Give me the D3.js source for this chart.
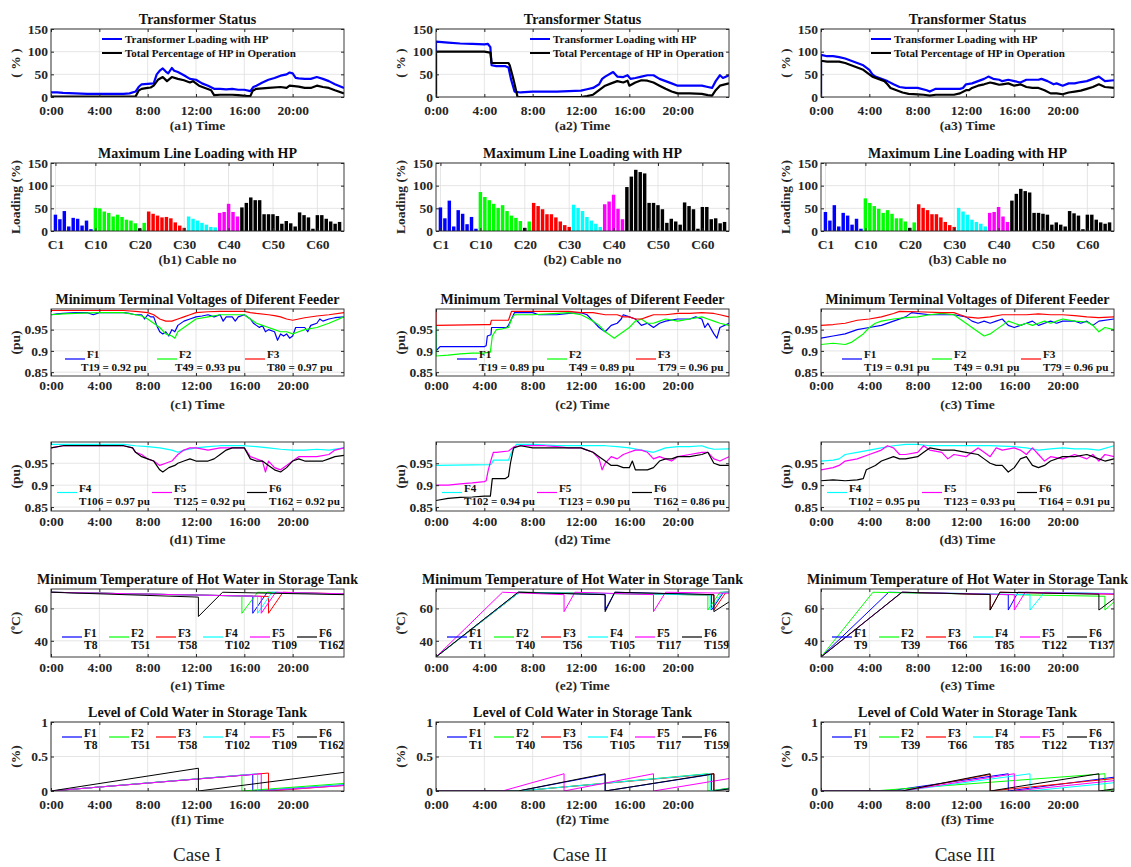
<!DOCTYPE html>
<html><head><meta charset="utf-8">
<script src="https://cdn.jsdelivr.net/npm/d3@7"></script>
<style>body{margin:0;background:#fff}svg text{font-family:"Liberation Serif","Times New Roman",serif}</style>
</head><body><svg id="c" width="1131" height="867"></svg>
<script>
// ---------- ticks / categories ----------
const timeTicks=[0,4,8,12,16,20];
const timeTickLabels=["0:00","4:00","8:00","12:00","16:00","20:00"];
const pctTicks=[0,50,100,150];
const cableTicks=[1,10,20,30,40,50,60];
const cableTickLabels=["C1","C10","C20","C30","C40","C50","C60"];
const puTicks=[0.85,0.9,0.95];
const puTickLabels=["0.85","0.9","0.95"];
const tempTicks=[40,60];
const levelTicks=[0,0.5,1];
const levelTickLabels=["0","0.5","1"];
const feederNames=["F1","F2","F3","F4","F5","F6"];
const feederColors=["#0000ff","#00ff00","#ff0000","#00ffff","#ff00ff","#000000"];
// feeder index of each cable C1..C65
const cableFeeder=[0,0,0,0,0,0,0,0,0, 1,1,1,1,1,1,1,1,1,1,5,1, 2,2,2,2,2,2,2,2,2, 3,3,3,3,3,3,3, 4,4,4,4,4, 5,5,5,5,5,5,5,5,5,5,5,5,5,5,5,5,5,5,5,5,5,5,5];
// ---------- (a) transformer status ----------
const a1Load=[[0,10],[0.5,10],[1,9],[2,8],[3,7],[4,7],[5,7],[6,7],[6.5,8],[7,12],[7.25,22],[7.5,28],[8,29],[8.5,30],[8.75,50],[9,58],[9.25,63],[9.5,56],[9.7,52],[10,64],[10.2,58],[10.5,55],[11,48],[11.5,40],[12,38],[12.5,30],[13,25],[13.5,18],[14,18],[14.5,17],[15,18],[15.5,16],[16,16],[16.5,13],[16.75,22],[17,25],[17.5,32],[18,38],[18.5,42],[19,47],[19.5,50],[19.75,54],[20,52],[20.25,42],[20.5,41],[21,40],[21.5,40],[22,44],[22.5,40],[23,35],[23.5,28],[24.25,20]];
const a1Hp=[[0,1],[7,1],[7.25,14],[7.5,18],[8,20],[8.25,21],[8.5,25],[8.85,38],[9.25,44],[9.6,35],[10,44],[10.5,40],[11,37],[11.5,32],[11.75,35],[12.25,25],[12.75,20],[13.25,15],[13.5,4],[14,5],[15,5],[15.5,4],[16.25,2],[16.5,2],[16.7,14],[17,18],[18,20],[19,22],[19.5,20],[19.75,25],[20.5,23],[21,20],[21.5,20],[22,25],[22.5,22],[23,20],[23.5,15],[24.25,8]];
const a2Load=[[0,0],[0,122],[1,120],[2,118],[3,117],[4,116],[4.3,117],[4.5,110],[4.6,70],[5,68],[5.75,68],[6,65],[6.2,40],[6.5,12],[7,10],[8,12],[9,12],[10,12],[11,13],[12,14],[12.5,17],[13,20],[13.5,28],[13.75,40],[14,45],[14.66,55],[15,45],[15.5,44],[15.85,48],[16.1,40],[16.5,42],[17,45],[17.5,48],[18,48],[18.5,40],[19,35],[19.5,30],[20,25],[21,25],[22,25],[22.5,22],[22.85,20],[23.15,35],[23.5,48],[23.75,42],[24.25,48]];
const a2Hp=[[0,0],[0,100],[4,100],[4.5,98],[4.6,75],[6,75],[6.1,70],[6.4,40],[6.75,0],[12,0],[12.5,2],[13,5],[13.5,15],[14,25],[14.5,30],[15,35],[15.5,32],[15.85,36],[16,25],[16.5,32],[17,37],[17.5,36],[18,32],[18.5,25],[19,18],[19.5,12],[20,8],[21,8],[22,7],[22.5,4],[22.85,3],[23.15,15],[23.5,25],[24.25,30]];
const a3Load=[[0,0],[0,93],[0.5,90],[1,90],[1.5,88],[2,85],[2.5,80],[3,75],[3.5,70],[4,60],[4.25,50],[4.5,45],[5,40],[5.5,35],[6,28],[6.5,22],[7,20],[8,20],[8.75,15],[9,12],[9.5,18],[10,18],[11.5,18],[11.75,20],[12,28],[12.5,30],[13,35],[13.5,40],[13.85,45],[14.25,40],[14.75,38],[15,35],[15.5,38],[16,35],[16.5,32],[17,38],[18,38],[18.25,40],[18.75,35],[19.25,28],[19.5,30],[20,25],[20.5,30],[21,30],[21.5,33],[22,35],[22.5,40],[23,45],[23.25,40],[23.5,35],[24.25,37]];
const a3Hp=[[0,0],[0,80],[0.5,78],[1.5,78],[2,75],[2.5,70],[3,65],[3.5,60],[4,50],[4.25,45],[4.75,40],[5.25,35],[5.5,28],[5.75,20],[6.25,15],[6.75,10],[7.25,7],[8,6],[8.5,5],[9,3],[9.5,5],[11,5],[11.5,8],[12,15],[12.25,15],[12.5,20],[13,25],[13.5,28],[14,32],[14.33,30],[14.75,27],[15,28],[15.5,30],[16,25],[16.5,28],[17,22],[17.5,20],[18,20],[18.5,15],[19,8],[19.5,8],[20,6],[20.5,10],[21,12],[21.5,14],[22,18],[22.5,22],[23,28],[23.5,22],[24.25,20]];
const transLegend=["Transformer Loading with HP","Total Percentage of HP in Operation"];
// ---------- (b) max line loading ----------
const b1Loading=[36,26,44,10,29,27,12,23,4, 51,50,43,40,32,36,31,25,23,17,6,18, 43,38,34,30,31,28,19,12,7, 32,27,23,18,14,9,8, 40,42,60,42,32, 52,62,74,68,68,37,37,37,33,16,22,17,10,41,35,30,5,35,35,27,21,16,20];
const b2Loading=[52,28,67,10,46,38,15,31,5, 86,75,68,60,51,57,44,34,29,22,7,21, 62,55,48,37,37,30,21,13,9, 58,51,44,31,23,16,9, 59,65,80,49,26, 97,120,135,130,127,62,62,57,48,18,27,21,14,63,55,48,5,53,53,26,28,17,20];
const b3Loading=[42,23,57,10,40,34,14,27,5, 72,62,55,49,40,46,38,28,28,21,7,19, 59,51,46,37,37,30,20,13,9, 51,43,36,25,20,16,10, 40,42,53,32,20, 67,82,93,88,85,40,40,38,36,14,19,14,10,44,39,34,4,36,36,25,19,16,19];
// ---------- (c) min terminal voltage F1-F3 ----------
const c1F1=[[0,0.985],[0.5,0.987],[1,0.988],[2,0.99],[3,0.99],[3.5,0.985],[4,0.99],[5,0.99],[6,0.99],[6.5,0.988],[7,0.985],[7.5,0.985],[7.75,0.975],[8,0.985],[8.25,0.98],[8.5,0.98],[8.75,0.96],[9,0.945],[9.25,0.94],[9.5,0.945],[9.75,0.935],[10,0.95],[10.25,0.945],[10.5,0.96],[11,0.97],[11.5,0.975],[12,0.98],[12.5,0.982],[13,0.985],[13.5,0.98],[14,0.985],[14.25,0.97],[14.5,0.98],[15,0.98],[15.25,0.97],[15.5,0.98],[16,0.985],[16.5,0.975],[16.75,0.965],[17,0.96],[17.25,0.955],[17.5,0.96],[17.75,0.945],[18,0.95],[18.5,0.945],[18.75,0.925],[19,0.94],[19.25,0.935],[19.5,0.94],[19.75,0.93],[20,0.935],[20.25,0.955],[20.5,0.955],[21,0.955],[21.25,0.945],[21.5,0.96],[22,0.965],[22.25,0.975],[22.5,0.97],[23,0.975],[23.5,0.978],[24.25,0.98]];
const c1F2=[[0,0.985],[1,0.987],[2,0.988],[4,0.99],[6,0.99],[7,0.985],[7.5,0.982],[8,0.975],[8.5,0.965],[9,0.955],[9.5,0.94],[10,0.935],[10.25,0.93],[10.5,0.945],[11,0.955],[11.5,0.965],[12,0.975],[13,0.98],[14,0.985],[15,0.985],[16,0.985],[16.5,0.975],[17,0.965],[17.5,0.96],[18,0.955],[18.5,0.95],[19,0.945],[19.5,0.945],[20,0.94],[20.5,0.945],[21,0.95],[22,0.955],[23,0.965],[24.25,0.98]];
const c1F3=[[0,0.995],[6,0.995],[7,0.993],[8,0.99],[8.5,0.985],[9,0.975],[9.5,0.97],[10,0.97],[10.5,0.975],[11,0.98],[11.5,0.985],[12,0.99],[13,0.992],[14,0.993],[15,0.993],[16,0.993],[16.5,0.99],[17,0.988],[18,0.985],[18.5,0.983],[19,0.98],[19.5,0.975],[20,0.972],[20.5,0.975],[21,0.978],[22,0.982],[23,0.985],[24.25,0.99]];
const c2F1=[[0,0.96],[0,0.9],[0.33,0.91],[1,0.91],[2,0.91],[3,0.91],[4,0.91],[4.15,0.912],[4.25,0.935],[4.55,0.938],[4.6,0.955],[5,0.955],[5.85,0.955],[6,0.96],[6.25,0.975],[6.5,0.99],[7,0.99],[8,0.99],[8.5,0.985],[9,0.985],[10,0.985],[11,0.988],[12,0.99],[12.5,0.985],[13,0.97],[13.5,0.955],[14,0.945],[14.5,0.96],[15,0.965],[15.33,0.975],[15.5,0.985],[16,0.98],[16.5,0.975],[17,0.96],[17.5,0.965],[18,0.955],[18.5,0.965],[19,0.97],[20,0.975],[21,0.975],[21.5,0.98],[22,0.975],[22.25,0.955],[22.5,0.965],[23,0.94],[23.25,0.93],[23.5,0.955],[24.25,0.965]];
const c2F2=[[0,0.96],[0,0.888],[1,0.89],[2,0.893],[3,0.895],[4,0.895],[4.5,0.897],[4.66,0.935],[5,0.95],[5.5,0.952],[6,0.955],[6.25,0.975],[6.5,0.985],[8,0.985],[10,0.988],[11,0.99],[12,0.985],[12.5,0.978],[13,0.97],[13.5,0.96],[14,0.945],[14.5,0.935],[14.75,0.93],[15,0.935],[15.5,0.945],[16,0.955],[16.5,0.97],[17,0.975],[17.5,0.965],[18,0.965],[18.5,0.97],[19,0.975],[20,0.97],[21,0.975],[22,0.98],[22.5,0.975],[23,0.97],[23.5,0.965],[24.25,0.96]];
const c2F3=[[0,0.998],[0,0.96],[4,0.962],[4.5,0.962],[4.58,0.972],[6,0.972],[6.25,0.993],[11,0.993],[12,0.99],[13,0.99],[14,0.985],[15,0.985],[15.5,0.98],[16,0.98],[16.5,0.975],[17,0.975],[17.5,0.98],[18,0.985],[19,0.985],[20,0.988],[21,0.988],[22,0.99],[23,0.988],[23.5,0.985],[24.25,0.98]];
const c3F1=[[0,0.93],[1,0.935],[2,0.94],[3,0.95],[4,0.955],[5,0.96],[6,0.97],[7,0.98],[7.5,0.99],[8,0.988],[9,0.985],[10,0.985],[11,0.985],[12,0.98],[12.5,0.97],[13,0.965],[13.5,0.97],[14,0.965],[14.5,0.97],[15,0.975],[15.5,0.96],[16,0.955],[16.5,0.96],[17,0.965],[17.5,0.97],[18,0.96],[18.5,0.965],[19,0.97],[19.5,0.965],[20,0.97],[21,0.97],[21.5,0.965],[22,0.97],[22.5,0.96],[23,0.97],[24.25,0.975]];
const c3F2=[[0,0.915],[1,0.918],[2,0.915],[2.5,0.92],[3,0.93],[3.5,0.94],[4,0.955],[4.5,0.965],[5,0.97],[6,0.975],[7,0.978],[8,0.98],[9,0.985],[10,0.988],[11,0.985],[11.5,0.975],[12,0.965],[12.5,0.955],[13,0.945],[13.5,0.935],[14,0.94],[14.5,0.95],[15,0.96],[15.5,0.97],[16,0.965],[16.5,0.96],[17,0.965],[17.5,0.96],[18,0.965],[18.5,0.97],[19,0.965],[19.5,0.97],[20,0.975],[21,0.97],[22,0.968],[22.5,0.96],[23,0.945],[23.5,0.955],[24.25,0.95]];
const c3F3=[[0,0.96],[1,0.962],[2,0.965],[3,0.972],[4,0.975],[5,0.98],[6,0.988],[6.5,0.993],[8,0.992],[10,0.99],[11,0.99],[11.5,0.985],[12,0.98],[13,0.977],[14,0.98],[15,0.985],[16,0.985],[17,0.985],[18,0.987],[19,0.985],[20,0.985],[21,0.983],[22,0.98],[23,0.978],[24.25,0.98]];
const c1Terms=["T19 = 0.92 pu","T49 = 0.93 pu","T80 = 0.97 pu"];
const c2Terms=["T19 = 0.89 pu","T49 = 0.89 pu","T79 = 0.96 pu"];
const c3Terms=["T19 = 0.91 pu","T49 = 0.91 pu","T79 = 0.96 pu"];
// ---------- (d) min terminal voltage F4-F6 ----------
const d1F4=[[0,0.993],[6,0.993],[7,0.99],[8,0.988],[9,0.985],[10,0.98],[10.5,0.975],[11,0.98],[12,0.985],[13,0.988],[14,0.99],[16,0.99],[17,0.988],[18,0.985],[19,0.982],[20,0.98],[21,0.98],[22,0.982],[23,0.98],[24.25,0.985]];
const d1F5=[[0,0.985],[1,0.99],[6,0.99],[6.75,0.985],[7,0.975],[7.5,0.97],[8,0.96],[8.5,0.955],[9,0.945],[9.5,0.95],[10,0.955],[10.5,0.97],[11,0.98],[11.5,0.985],[12,0.985],[13,0.98],[14,0.985],[16,0.985],[16.5,0.965],[17,0.96],[17.5,0.955],[17.75,0.93],[18,0.955],[18.5,0.94],[19,0.935],[19.5,0.945],[20,0.955],[20.5,0.965],[21,0.965],[22,0.965],[23,0.97],[23.5,0.98],[24.25,0.985]];
const d1F6=[[0,0.985],[1,0.99],[6,0.99],[6.75,0.985],[7,0.975],[7.5,0.965],[8,0.96],[8.5,0.955],[9,0.935],[9.25,0.93],[9.75,0.94],[10.25,0.945],[10.5,0.95],[11,0.955],[11.5,0.96],[12,0.955],[13,0.955],[13.5,0.96],[14,0.97],[14.5,0.98],[15,0.985],[16,0.985],[16.5,0.96],[17,0.955],[17.5,0.955],[18,0.945],[18.5,0.935],[19,0.93],[19.5,0.94],[20,0.955],[20.5,0.96],[21,0.955],[22,0.955],[22.5,0.955],[23,0.96],[23.5,0.965],[24.25,0.968]];
const d2F4=[[0,0.945],[4.5,0.947],[4.58,0.948],[4.75,0.957],[6,0.957],[6.25,0.975],[6.66,0.993],[8,0.993],[10,0.99],[14,0.99],[15,0.988],[16,0.985],[17,0.98],[18,0.975],[18.5,0.98],[19,0.985],[20,0.988],[21,0.988],[22,0.99],[22.5,0.985],[23,0.982],[24.25,0.983]];
const d2F5=[[0,0.9],[1,0.9],[2,0.903],[3,0.905],[4,0.908],[4.15,0.91],[4.33,0.935],[4.58,0.96],[4.75,0.975],[5,0.975],[6,0.978],[6.5,0.988],[7,0.99],[9,0.99],[10,0.988],[11,0.985],[12,0.985],[12.5,0.98],[13,0.975],[13.5,0.96],[13.75,0.935],[14,0.95],[14.5,0.965],[15,0.96],[15.5,0.97],[16,0.975],[16.5,0.98],[17,0.98],[17.5,0.975],[18,0.96],[18.5,0.965],[19,0.96],[19.5,0.955],[20,0.965],[21,0.97],[22,0.975],[22.5,0.975],[23,0.96],[23.5,0.955],[24.25,0.965]];
const d2F6=[[0,0.865],[1,0.87],[2,0.872],[3,0.873],[4,0.875],[4.5,0.875],[4.66,0.915],[5.75,0.915],[6,0.92],[6.16,0.95],[6.42,0.985],[7,0.99],[8,0.985],[12,0.985],[12.5,0.98],[13,0.975],[13.5,0.965],[14,0.955],[14.5,0.945],[15,0.945],[15.5,0.94],[16,0.94],[16.25,0.955],[16.5,0.935],[17.5,0.935],[18,0.94],[18.5,0.955],[19,0.96],[19.5,0.96],[20,0.965],[21,0.965],[22,0.97],[22.5,0.975],[23,0.95],[23.5,0.945],[24.25,0.945]];
const d3F4=[[0,0.955],[1,0.957],[1.5,0.96],[2,0.97],[3,0.975],[4,0.98],[5,0.985],[6,0.99],[7,0.993],[8,0.993],[9,0.99],[14,0.99],[16,0.988],[17,0.985],[18,0.98],[19,0.983],[20,0.985],[21,0.983],[22,0.983],[23,0.98],[24.25,0.99]];
const d3F5=[[0,0.935],[1,0.94],[1.5,0.945],[2,0.955],[3,0.96],[4,0.97],[5,0.98],[5.5,0.99],[6,0.985],[6.5,0.97],[7,0.97],[8,0.975],[8.5,0.99],[9,0.98],[10,0.975],[10.5,0.96],[11,0.97],[12,0.965],[12.5,0.975],[13,0.985],[13.5,0.975],[14,0.965],[14.5,0.985],[15,0.98],[16,0.985],[16.5,0.98],[17,0.97],[17.5,0.985],[18,0.97],[18.5,0.955],[19,0.965],[20,0.96],[21,0.97],[22,0.96],[22.5,0.97],[23,0.955],[23.5,0.97],[24.25,0.965]];
const d3F6=[[0,0.91],[1,0.912],[2,0.91],[3,0.912],[3.5,0.915],[3.75,0.935],[4.5,0.945],[5,0.955],[6,0.965],[6.5,0.96],[7,0.96],[8,0.965],[8.5,0.975],[9,0.985],[10,0.98],[11,0.98],[12,0.975],[13,0.97],[13.5,0.96],[14,0.95],[14.5,0.945],[15,0.945],[15.5,0.93],[16,0.94],[16.5,0.96],[17,0.965],[17.5,0.945],[18,0.94],[18.5,0.945],[19,0.955],[20,0.965],[21,0.965],[22,0.97],[22.5,0.965],[23,0.96],[23.5,0.955],[24.25,0.96]];
const d1Terms=["T106 = 0.97 pu","T125 = 0.92 pu","T162 = 0.92 pu"];
const d2Terms=["T102 = 0.94 pu","T123 = 0.90 pu","T162 = 0.86 pu"];
const d3Terms=["T102 = 0.95 pu","T123 = 0.93 pu","T164 = 0.91 pu"];
// ---------- (e) min hot water temperature ----------
const e1F1=[[0,70],[16.7,67.6],[16.7,57],[17.9,70],[24.25,68.9]];
const e1F2=[[0,70],[15.8,67.7],[15.8,57],[17.1,70],[24.25,68.8]];
const e1F3=[[0,70],[18.0,67.4],[18.0,57],[19.2,70],[24.25,69]];
const e1F4=[[0,70],[17.1,67.5],[17.1,57],[18.3,70],[24.25,68.9]];
const e1F5=[[0,70],[17.4,67.5],[17.4,57],[18.6,70],[24.25,69]];
const e1F6=[[0,70],[12.2,67],[12.2,55],[14.2,70],[24.25,68.5]];
const e2F1=[[0,30],[6.8,70],[14,68.5],[14,59],[14.8,70],[22.8,68.5],[22.8,59],[23.8,70],[24.25,70]];
const e2F2=[[0,30],[6.9,70],[22.5,68.3],[22.5,59],[23.5,70],[24.25,70]];
const e2F3=[[0,30],[6.9,70],[23,68.3],[23,59],[24,70],[24.25,70]];
const e2F4=[[0,30],[6.9,70],[22.7,68.3],[22.7,59],[23.7,70],[24.25,70]];
const e2F5=[[0,30],[5.5,70],[10.6,68.5],[10.6,58],[11.5,70],[18,68.5],[18,58],[19,70],[24.25,69.4]];
const e2F6=[[0,30],[6.8,70],[14,68.5],[14,58],[14.8,70],[23,68.5],[23,58],[24.25,64]];
const e3F1=[[0,30],[5.6,70],[15.5,68.5],[15.5,59],[16.3,70],[24.25,69]];
const e3F2=[[0,62],[0,30],[4.3,70],[23.5,67.5],[23.5,59],[24.25,64]];
const e3F3=[[0,30],[6.7,70],[14,68.6],[14,59],[14.8,70],[24.25,68.8]];
const e3F4=[[0,30],[6.7,70],[17.3,68.5],[17.3,59],[18.5,70],[24.25,69.2]];
const e3F5=[[0,30],[6.7,70],[16,68.5],[16,59],[16.9,70],[24.25,69]];
const e3F6=[[0,30],[6.7,70],[14,68.6],[14,59],[14.8,70],[23,68.8],[23,59],[24.25,66]];
const e1Terms=["T8","T51","T58","T102","T109","T162"];
const e2Terms=["T1","T40","T56","T105","T117","T159"];
const e3Terms=["T9","T39","T66","T85","T122","T137"];
// ---------- (f) cold water level ----------
const f1F1=[[0,0],[16.7,0.24],[16.7,0],[24.25,0.09]];
const f1F2=[[0,0],[15.8,0.23],[15.8,0],[24.25,0.11]];
const f1F3=[[0,0],[18,0.26],[18,0],[24.25,0.08]];
const f1F4=[[0,0],[17.1,0.25],[17.1,0],[24.25,0.09]];
const f1F5=[[0,0],[17.4,0.25],[17.4,0],[24.25,0.08]];
const f1F6=[[0,0],[12.2,0.33],[12.2,0],[24.25,0.27]];
const f2F1=[[0,0],[6.8,0],[14,0.24],[14,0],[22.8,0.24],[22.8,0],[24.25,0.04]];
const f2F2=[[0,0],[6.9,0],[22.5,0.25],[22.5,0],[24.25,0.04]];
const f2F3=[[0,0],[6.9,0],[23,0.25],[23,0],[24.25,0.03]];
const f2F4=[[0,0],[6.9,0],[22.7,0.25],[22.7,0],[24.25,0.03]];
const f2F5=[[0,0],[5.5,0],[10.6,0.25],[10.6,0],[18,0.25],[18,0],[24.25,0.18]];
const f2F6=[[0,0],[6.8,0],[14,0.25],[14,0],[23,0.25],[23,0],[24.25,0.03]];
const f3F1=[[0,0],[5.6,0],[15.5,0.25],[15.5,0],[24.25,0.2]];
const f3F2=[[0,0],[4.3,0],[23.5,0.25],[23.5,0],[24.25,0.02]];
const f3F3=[[0,0],[6.7,0],[14,0.24],[14,0],[24.25,0.18]];
const f3F4=[[0,0],[6.7,0],[17.3,0.25],[17.3,0],[24.25,0.12]];
const f3F5=[[0,0],[6.7,0],[16,0.25],[16,0],[24.25,0.15]];
const f3F6=[[0,0.95],[0,0],[6.7,0],[14,0.25],[14,0],[23,0.25],[23,0],[24.25,0.03]];
const caseLabels=["Case I","Case II","Case III"];

// ---------- layout ----------
const svg=d3.select("#c");
const colX=[51,436,821], PW=293;
const rowTop={a:29,b:163,c:309,d:442,e:589,f:722};
const rowBot={a:97,b:231,c:376,d:511,e:657,f:791};
const xPad={a:8,b:8,c:4,d:5,e:5,f:8};
const GRID="#dedede", AX="#262626";
const FONT="'Liberation Serif','Times New Roman',serif";

function panel(p){
  const x0=colX[p.col], y0=rowTop[p.row], y1=rowBot[p.row];
  const g=svg.append("g");
  const x=d3.scaleLinear().domain(p.xd).range([x0,x0+PW]);
  const y=d3.scaleLinear().domain(p.yd).range([y1,y0]);
  g.append("g").selectAll("line").data(p.xt).join("line")
    .attr("x1",d=>x(d)).attr("x2",d=>x(d)).attr("y1",y0).attr("y2",y1).attr("stroke",GRID).attr("stroke-width",0.8);
  g.append("g").selectAll("line").data(p.yt).join("line")
    .attr("y1",d=>y(d)).attr("y2",d=>y(d)).attr("x1",x0).attr("x2",x0+PW).attr("stroke",GRID).attr("stroke-width",0.8);
  const cid="clip"+p.id;
  g.append("clipPath").attr("id",cid).append("rect").attr("x",x0).attr("y",y0).attr("width",PW).attr("height",y1-y0);
  const m=g.append("g").attr("clip-path",`url(#${cid})`);
  if(p.bars){
    const bw=x(0.78)-x(0);
    m.selectAll("rect").data(p.bars).join("rect")
      .attr("x",(d,i)=>x(i+1)-bw/2).attr("width",bw)
      .attr("y",d=>y(d)).attr("height",d=>y(0)-y(d))
      .attr("fill",(d,i)=>feederColors[cableFeeder[i]]);
  }
  if(p.series){
    const line=d3.line().x(d=>x(d[0])).y(d=>y(d[1]));
    p.series.forEach(s=>m.append("path").datum(s.data).attr("d",line)
      .attr("fill","none").attr("stroke",s.color).attr("stroke-width",p.lw).attr("stroke-linejoin","round"));
  }
  g.append("rect").attr("x",x0).attr("y",y0).attr("width",PW).attr("height",y1-y0)
    .attr("fill","none").attr("stroke",AX).attr("stroke-width",0.9);
  const style=s=>{s.select(".domain").remove();
    s.selectAll("line").attr("stroke",AX);
    s.selectAll("text").attr("font-family",FONT).attr("font-weight","bold").attr("font-size",13.5).attr("fill",AX);};
  g.append("g").attr("transform",`translate(0,${y1})`)
    .call(d3.axisBottom(x).tickValues(p.xt).tickFormat((d,i)=>p.xl[i]).tickSizeInner(-3).tickSizeOuter(0).tickPadding(xPad[p.row])).call(style);
  g.append("g").attr("transform",`translate(0,${y0})`)
    .call(d3.axisTop(x).tickValues(p.xt).tickFormat("").tickSizeInner(-3).tickSizeOuter(0)).call(style);
  g.append("g").attr("transform",`translate(${x0},0)`)
    .call(d3.axisLeft(y).tickValues(p.yt).tickFormat((d,i)=>p.yl?p.yl[i]:d).tickSizeInner(-3).tickSizeOuter(0).tickPadding(3)).call(style);
  g.append("g").attr("transform",`translate(${x0+PW},0)`)
    .call(d3.axisRight(y).tickValues(p.yt).tickFormat("").tickSizeInner(-3).tickSizeOuter(0)).call(style);
  if(p.title) g.append("text").attr("x",x0+PW/2).attr("y",y0-5.5).attr("text-anchor","middle")
    .attr("font-weight","bold").attr("font-size",14).attr("fill","#111").text(p.title);
  g.append("text").attr("x",x0+PW/2).attr("y",y1+32.5).attr("text-anchor","middle")
    .attr("font-weight","bold").attr("font-size",13.5).attr("fill",AX).text(p.xlabel);
  const yl=g.append("text").attr("transform",`translate(${x0-36},${(y0+y1)/2}) rotate(-90)`)
    .attr("text-anchor","middle").attr("dy","0.35em").attr("font-weight","bold").attr("font-size",13.5).attr("fill",AX);
  if(p.ylabel==="degC"){
    yl.append("tspan").text("(");
    yl.append("tspan").attr("font-size",8).attr("dy","-5").text("o");
    yl.append("tspan").attr("dy","5").text("C)");
  } else yl.text(p.ylabel);
  if(p.legend) p.legend(g,x0,y0);
}

function legendTrans(off){
  return (g,x0,y0)=>{
    ["#0000ff","#000000"].forEach((c,i)=>{
      const yy=y0+10+i*14;
      g.append("line").attr("x1",x0+off).attr("x2",x0+off+20).attr("y1",yy).attr("y2",yy).attr("stroke",c).attr("stroke-width",2);
      g.append("text").attr("x",x0+off+23).attr("y",yy).attr("dy","0.35em").attr("font-weight","bold")
        .attr("font-size",11).attr("fill","#111").text(transLegend[i]);
    });
  };
}
function legendFeeder(offs,names,colors,terms,lineDy,fDy,tDy,fs,tShift){
  return (g,x0,y0)=>{
    offs.forEach((o,i)=>{
      const lx=x0+o;
      g.append("line").attr("x1",lx).attr("x2",lx+20).attr("y1",y0+lineDy).attr("y2",y0+lineDy)
        .attr("stroke",colors[i]).attr("stroke-width",1.2);
      g.append("text").attr("x",lx+22).attr("y",y0+fDy).attr("dy","0.35em").attr("font-weight","bold")
        .attr("font-size",fs).attr("fill","#111").text(names[i]);
      g.append("text").attr("x",lx+22+(tShift?tShift[i]:0)).attr("y",y0+tDy).attr("dy","0.35em").attr("font-weight","bold")
        .attr("font-size",fs).attr("fill","#111").text(terms[i]);
    });
  };
}

const timeCfg={xd:[0,24.25],xt:timeTicks,xl:timeTickLabels};
const cols=[0,1,2];
const trans=[[a1Load,a1Hp],[a2Load,a2Hp],[a3Load,a3Hp]];
const transOff=[51,94,50];
const bl=[b1Loading,b2Loading,b3Loading];
const cS=[[c1F1,c1F2,c1F3],[c2F1,c2F2,c2F3],[c3F1,c3F2,c3F3]];
const cT=[c1Terms,c2Terms,c3Terms];
const cOff=[[14,106,194],[21,111,200],[21,111,200]];
const cShift=[[-6,-4,0],[0,0,0],[0,0,0]];
const dS=[[d1F4,d1F5,d1F6],[d2F4,d2F5,d2F6],[d3F4,d3F5,d3F6]];
const dT=[d1Terms,d2Terms,d3Terms];
const eS=[[e1F1,e1F2,e1F3,e1F4,e1F5,e1F6],[e2F1,e2F2,e2F3,e2F4,e2F5,e2F6],[e3F1,e3F2,e3F3,e3F4,e3F5,e3F6]];
const fS=[[f1F1,f1F2,f1F3,f1F4,f1F5,f1F6],[f2F1,f2F2,f2F3,f2F4,f2F5,f2F6],[f3F1,f3F2,f3F3,f3F4,f3F5,f3F6]];
const eT=[e1Terms,e2Terms,e3Terms];
const eOff=[11,58,105,152,199,246];

cols.forEach(c=>{
  const n=c+1;
  panel({...timeCfg,id:"a"+n,col:c,row:"a",yd:[0,150],yt:pctTicks,title:"Transformer Status",xlabel:`(a${n}) Time`,ylabel:"( % )",lw:2.2,
    series:[{data:trans[c][0],color:"#0000ff"},{data:trans[c][1],color:"#000000"}],legend:legendTrans(transOff[c])});
  panel({id:"b"+n,col:c,row:"b",xd:[0,66],xt:cableTicks,xl:cableTickLabels,yd:[0,150],yt:pctTicks,title:"Maximum Line Loading with HP",
    xlabel:`(b${n}) Cable no`,ylabel:"Loading (%)",bars:bl[c]});
  panel({...timeCfg,id:"c"+n,col:c,row:"c",yd:[0.841,0.9985],yt:puTicks,yl:puTickLabels,title:"Minimum Terminal Voltages of Diferent Feeder",
    xlabel:`(c${n}) Time`,ylabel:"(pu)",lw:1.2,series:cS[c].map((s,i)=>({data:s,color:feederColors[i]})),
    legend:legendFeeder(cOff[c],feederNames.slice(0,3),feederColors.slice(0,3),cT[c],50,45,58,11.2,cShift[c])});
  panel({...timeCfg,id:"d"+n,col:c,row:"d",yd:[0.841,0.9985],yt:puTicks,yl:puTickLabels,
    xlabel:`(d${n}) Time`,ylabel:"(pu)",lw:1.2,series:dS[c].map((s,i)=>({data:s,color:feederColors[i+3]})),
    legend:legendFeeder([6,101,196],feederNames.slice(3),feederColors.slice(3),dT[c],50.5,46,59,11.2)});
  panel({...timeCfg,id:"e"+n,col:c,row:"e",yd:[30,72],yt:tempTicks,title:"Minimum Temperature of Hot Water in Storage Tank",
    xlabel:`(e${n}) Time`,ylabel:"degC",lw:1,series:eS[c].map((s,i)=>({data:s,color:feederColors[i]})),
    legend:legendFeeder(eOff,feederNames,feederColors,eT[c],48,44,56,11.5)});
  panel({...timeCfg,id:"f"+n,col:c,row:"f",yd:[0,1],yt:levelTicks,yl:levelTickLabels,title:"Level of Cold Water in Storage Tank",
    xlabel:`(f${n}) Time`,ylabel:"(%)",lw:1,series:fS[c].map((s,i)=>({data:s,color:feederColors[i]})),
    legend:legendFeeder(eOff,feederNames,feederColors,eT[c],15,11,23,11.5)});
});
svg.selectAll(".case").data(caseLabels).join("text").attr("class","case")
  .attr("x",(d,i)=>[197,580,965][i]).attr("y",861).attr("text-anchor","middle")
  .attr("font-size",19).attr("fill","#222").text(d=>d);
</script></body></html>
